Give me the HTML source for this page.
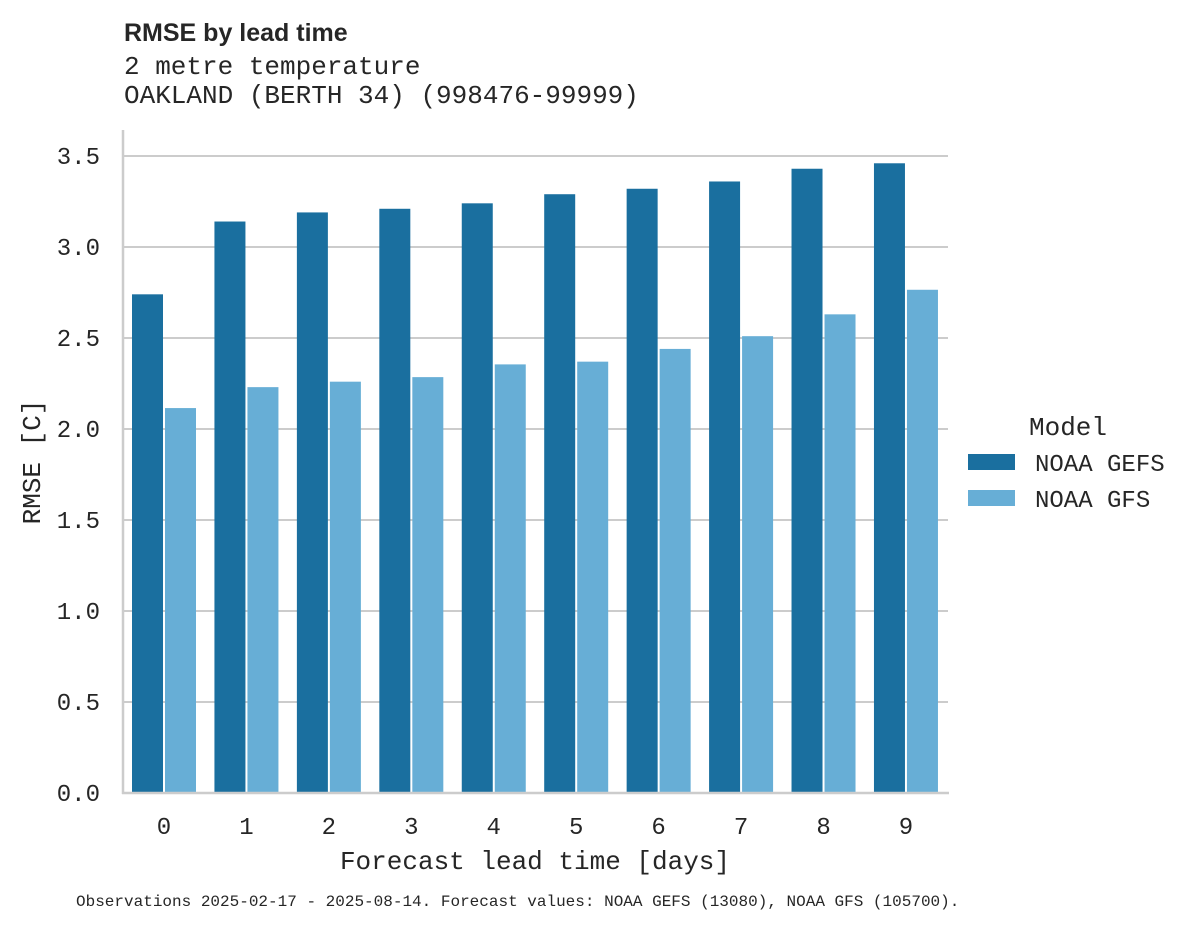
<!DOCTYPE html>
<html><head><meta charset="utf-8"><style>
body{margin:0;background:#fff;}
svg text{fill:#262626;}
.mono{font-family:"Liberation Mono","DejaVu Sans Mono",monospace;}
</style></head><body>
<svg id="chart" width="1188" height="928" xmlns="http://www.w3.org/2000/svg">
<text x="124" y="41" font-family="Liberation Sans, sans-serif" font-weight="bold" font-size="25">RMSE by lead time</text>
<text class="mono" x="124" y="74" font-size="26">2 metre temperature</text>
<text class="mono" x="124" y="103" font-size="26">OAKLAND (BERTH 34) (998476-99999)</text>
<g id="grid"></g>
<g id="bars"></g>
<g id="axes"></g>
<text class="mono" font-size="26" text-anchor="middle" transform="translate(40,462) rotate(-90)">RMSE [C]</text>
<text class="mono" x="535" y="869" font-size="26" text-anchor="middle">Forecast lead time [days]</text>
<g>
<text class="mono" x="1029" y="435" font-size="26">Model</text>
<rect x="968" y="454" width="47" height="16" fill="#1a6f9f"/>
<text class="mono" x="1035" y="471" font-size="24">NOAA GEFS</text>
<rect x="968" y="490" width="47" height="16" fill="#67aed6"/>
<text class="mono" x="1035" y="507" font-size="24">NOAA GFS</text>
</g>
<text class="mono" x="76" y="906" font-size="16">Observations 2025-02-17 - 2025-08-14. Forecast values: NOAA GEFS (13080), NOAA GFS (105700).</text>
</svg>
<script>
const categories=["0","1","2","3","4","5","6","7","8","9"];
const gefsValues=[2.74,3.14,3.19,3.21,3.24,3.29,3.32,3.36,3.43,3.46];
const gfsValues=[2.115,2.23,2.26,2.285,2.355,2.37,2.44,2.51,2.63,2.765];
const yTicks=[0,0.5,1,1.5,2,2.5,3,3.5];
const yTickLabels=["0.0","0.5","1.0","1.5","2.0","2.5","3.0","3.5"];
const NS="http://www.w3.org/2000/svg";
const y0=793,pxPerUnit=182,x0=164,step=82.44;
function yScale(v){return y0-v*pxPerUnit;}
function xScale(i){return x0+i*step;}
function mk(tag,attrs,parent){const e=document.createElementNS(NS,tag);for(const k in attrs)e.setAttribute(k,attrs[k]);parent.appendChild(e);return e;}
const grid=document.getElementById('grid'),bars=document.getElementById('bars'),axes=document.getElementById('axes');
yTicks.forEach((t,i)=>{
  if(t>0){const l=mk('line',{x1:123,x2:948,y1:yScale(t),y2:yScale(t),stroke:'#cccccc','stroke-width':2},grid);
  
  }
  const tx=mk('text',{x:100,y:yScale(t)+8,'font-size':24,'text-anchor':'end','class':'mono'},axes);
  tx.textContent=yTickLabels[i];
  
  
});
categories.forEach((c,i)=>{
  const cx=xScale(i);
  const b1=mk('rect',{x:cx-32,y:yScale(gefsValues[i]),width:31,height:gefsValues[i]*pxPerUnit,fill:'#1a6f9f'},bars);
  
  
  const b2=mk('rect',{x:cx+1,y:yScale(gfsValues[i]),width:31,height:gfsValues[i]*pxPerUnit,fill:'#67aed6'},bars);
  
  
  const tx=mk('text',{x:cx,y:834,'font-size':24,'text-anchor':'middle','class':'mono'},axes);
  tx.textContent=c;
  
  
});
const ls=mk('line',{x1:123,x2:123,y1:130,y2:794,stroke:'#cccccc','stroke-width':2.5},axes);


const bs=mk('line',{x1:122,x2:949,y1:793,y2:793,stroke:'#cccccc','stroke-width':2.5},axes);


</script>
</body></html>
